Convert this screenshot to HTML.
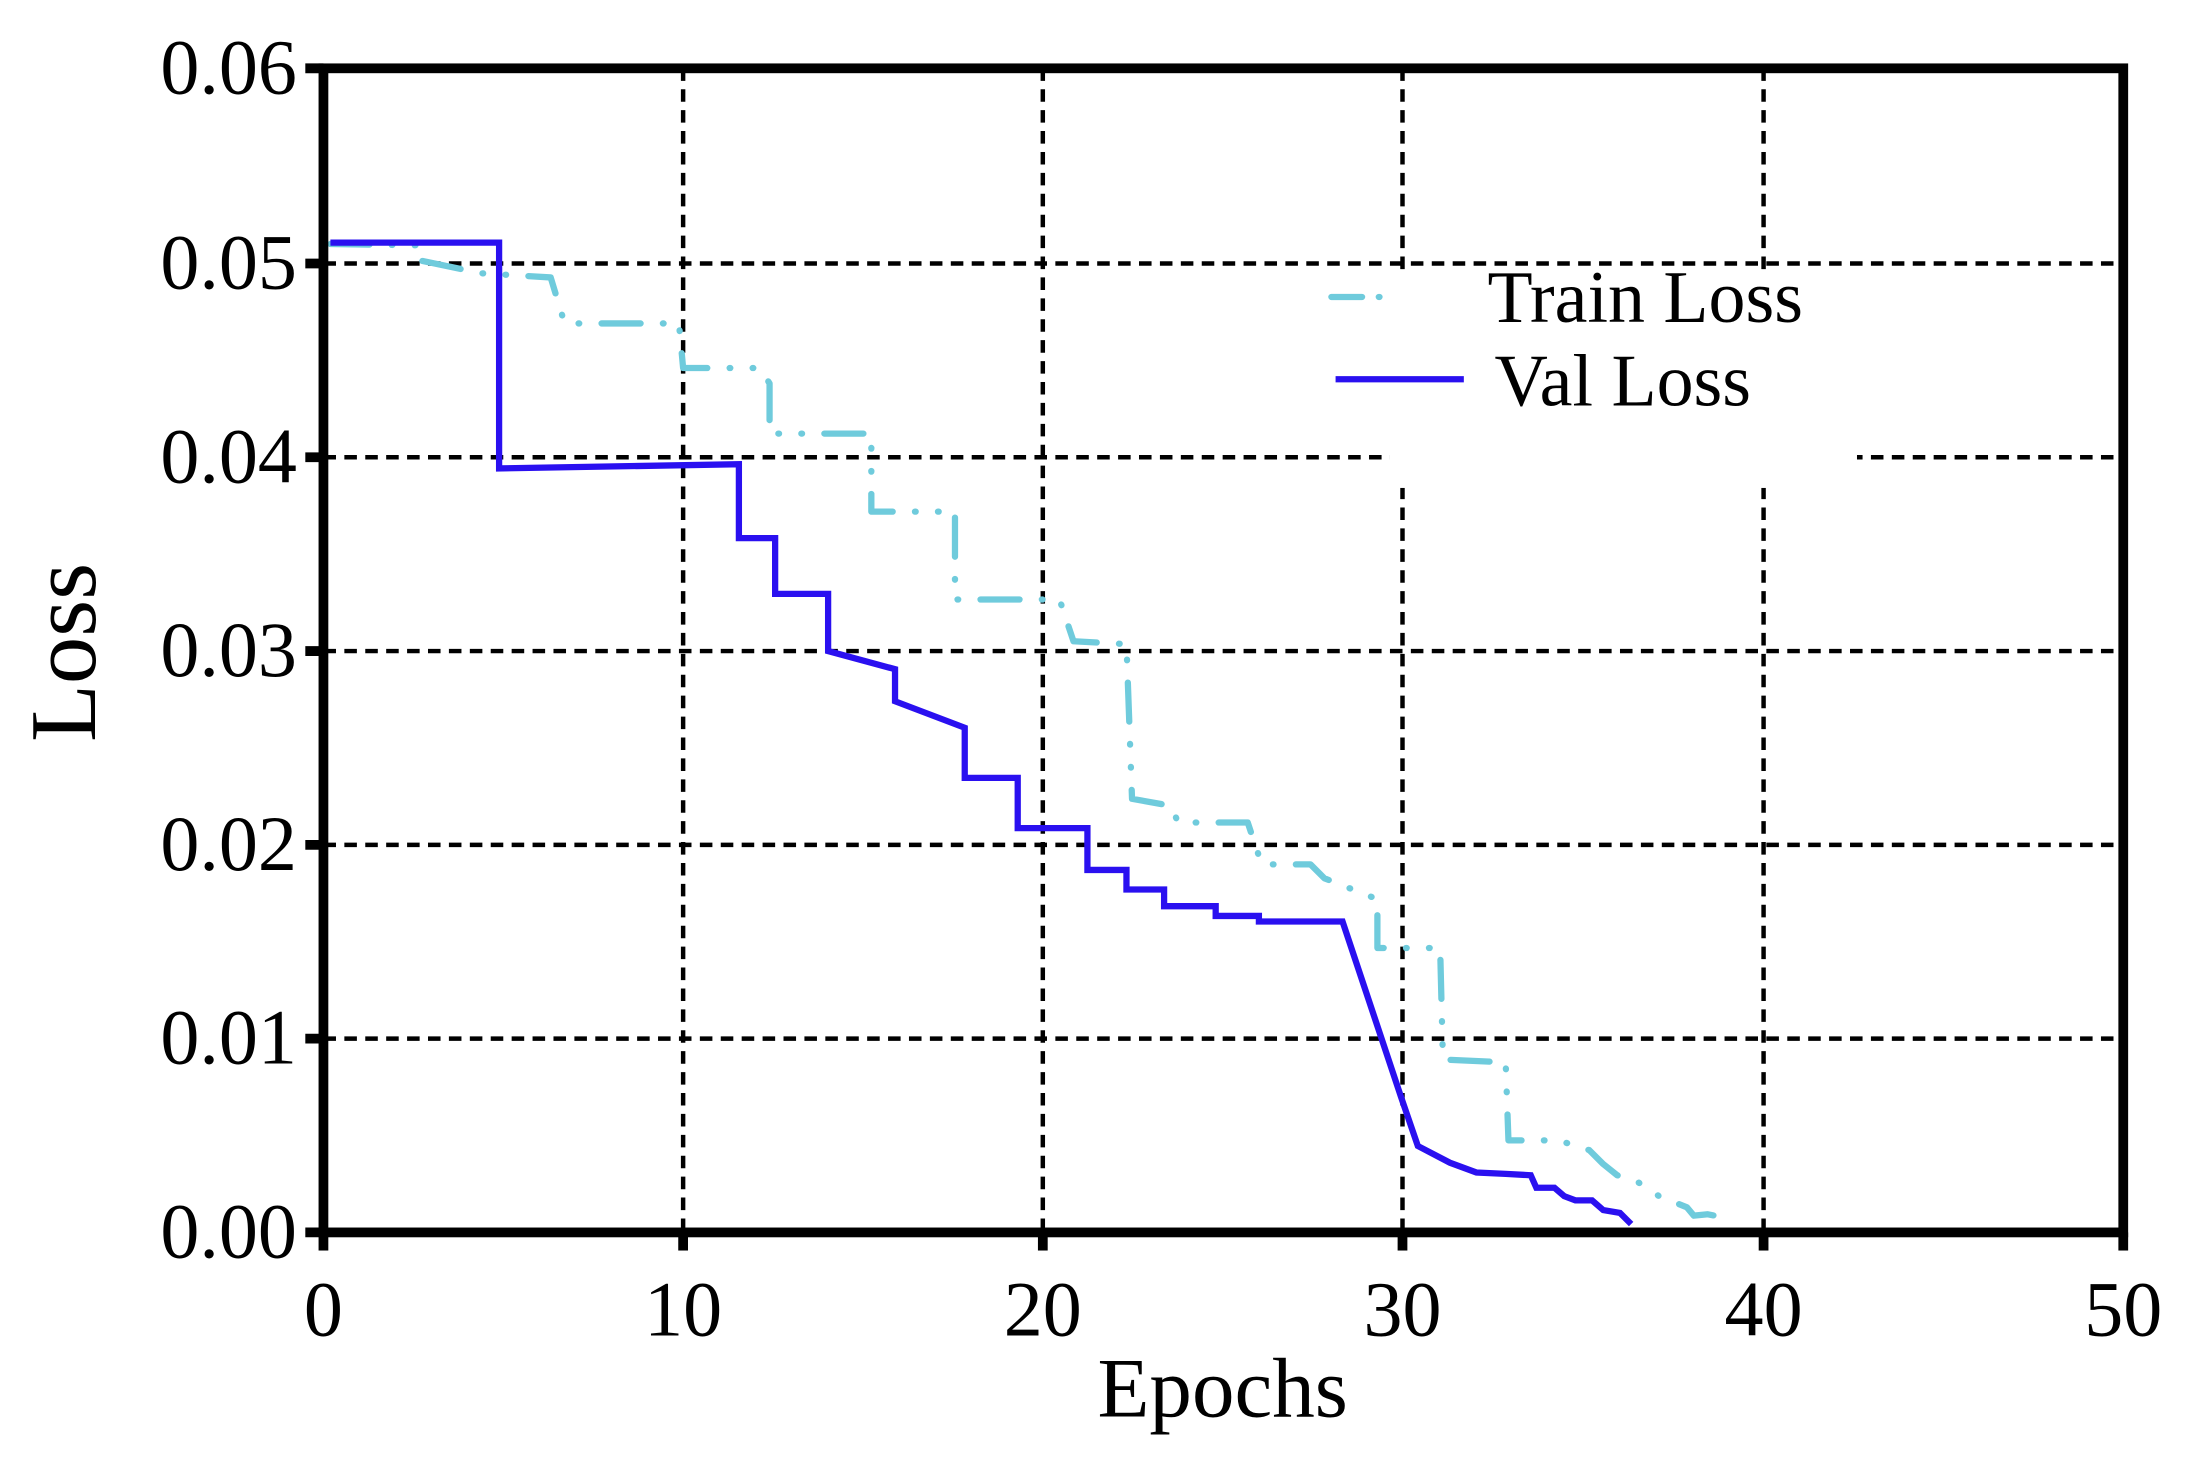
<!DOCTYPE html>
<html><head><meta charset="utf-8"><style>
html,body{margin:0;padding:0;background:#fff;}
svg{display:block;}
text{font-family:"Liberation Serif",serif;fill:#000;}
</style></head><body>
<svg width="2186" height="1463" viewBox="0 0 1568 1049.4" xmlns="http://www.w3.org/2000/svg">
<rect x="0" y="0" width="1568" height="1049.4" fill="#fff"/>
<g stroke="#000" stroke-width="3.2" stroke-dasharray="9 6" fill="none">
<line x1="232" y1="189" x2="1523" y2="189"/>
<line x1="232" y1="328" x2="1523" y2="328"/>
<line x1="232" y1="467" x2="1523" y2="467"/>
<line x1="232" y1="606" x2="1523" y2="606"/>
<line x1="232" y1="745" x2="1523" y2="745"/>
<line x1="490" y1="49" x2="490" y2="884"/>
<line x1="748" y1="49" x2="748" y2="884"/>
<line x1="1006" y1="49" x2="1006" y2="884"/>
<line x1="1265" y1="49" x2="1265" y2="884"/>
</g>
<rect x="997" y="194" width="335" height="156" fill="#fff"/>
<polyline fill="none" stroke="#6fcbdc" stroke-width="4.5" stroke-linecap="round" stroke-linejoin="round" stroke-dasharray="28 16 0.5 16 0.5 16"
points="237,175 302,176 302,187 345,196 395,199 405,232 487,232 490,264 545,264 552,275 552,311 625,311 625,323 625,367 685,367 685,430 760,430 770,460 808,462 812,573 840,578 845,590 895,590 905,620 940,620 950,630 988,645 988,680 1033,680 1035,760 1080,762 1082,818 1118,818 1140,825 1150,835 1160,843 1175,848 1190,858 1210,866 1215,872 1225,871 1235,873"/>
<polyline fill="none" stroke="#2a10f0" stroke-width="4.5" stroke-linejoin="miter"
points="237,174 358,174 358,336 530,333 530,386 556,386 556,426 594,426 594,467 642,480 642,503 692,522 692,558 730,558 730,594 780,594 780,624 808,624 808,638 835,638 835,650 872,650 872,657 903,657 903,661 963,661 1005,787 1017,822 1040,834 1059,841 1080,842 1098,843 1102,852 1115,852 1122,858 1130,861 1142,861 1150,868 1162,870 1170,878"/>
<rect x="232" y="49" width="1291" height="835" fill="none" stroke="#000" stroke-width="7"/>
<g stroke="#000" stroke-width="7">
<line x1="232" y1="884" x2="232" y2="897"/>
<line x1="490" y1="884" x2="490" y2="897"/>
<line x1="748" y1="884" x2="748" y2="897"/>
<line x1="1006" y1="884" x2="1006" y2="897"/>
<line x1="1265" y1="884" x2="1265" y2="897"/>
<line x1="1523" y1="884" x2="1523" y2="897"/>
<line x1="219" y1="49" x2="232" y2="49"/>
<line x1="219" y1="189" x2="232" y2="189"/>
<line x1="219" y1="328" x2="232" y2="328"/>
<line x1="219" y1="467" x2="232" y2="467"/>
<line x1="219" y1="606" x2="232" y2="606"/>
<line x1="219" y1="745" x2="232" y2="745"/>
<line x1="219" y1="884" x2="232" y2="884"/>
</g>
<g font-size="56" text-anchor="end">
<text x="213" y="67">0.06</text>
<text x="213" y="207">0.05</text>
<text x="213" y="346">0.04</text>
<text x="213" y="485">0.03</text>
<text x="213" y="624">0.02</text>
<text x="213" y="763">0.01</text>
<text x="213" y="902">0.00</text>
</g>
<g font-size="56" text-anchor="middle">
<text x="232" y="958">0</text>
<text x="490" y="958">10</text>
<text x="748" y="958">20</text>
<text x="1006" y="958">30</text>
<text x="1265" y="958">40</text>
<text x="1523" y="958">50</text>
</g>
<text x="877" y="1016" font-size="61" text-anchor="middle">Epochs</text>
<text transform="translate(68,468) rotate(-90)" font-size="68" text-anchor="middle">Loss</text>
<line x1="955" y1="213" x2="1000" y2="213" stroke="#6fcbdc" stroke-width="4.5" stroke-linecap="round" stroke-dasharray="22 12 0.5 12 0.5 12"/>
<line x1="958" y1="272" x2="1050" y2="272" stroke="#2a10f0" stroke-width="4.5"/>
<text x="1067" y="231" font-size="53">Train Loss</text>
<text x="1072" y="291" font-size="53">Val Loss</text>
</svg>
</body></html>
